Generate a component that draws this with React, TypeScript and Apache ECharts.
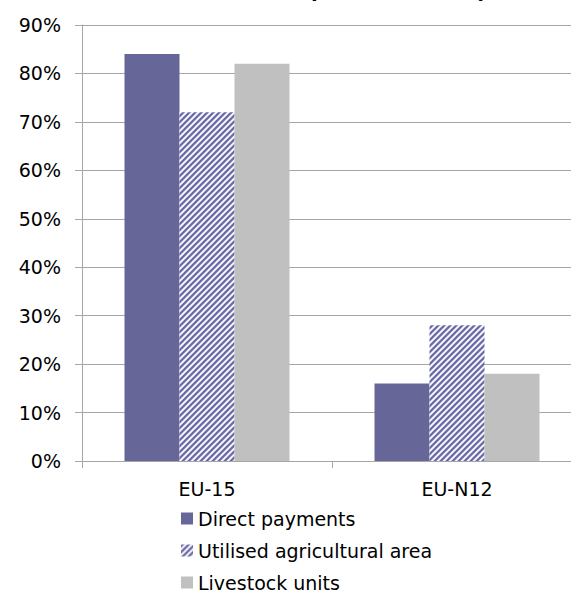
import React, { useEffect, useRef } from "react";
import * as echarts from "echarts";

const categories = ["EU-15", "EU-N12"];
const directPayments = [84, 16];
const utilisedArea = [72, 28];
const livestockUnits = [82, 18];
const yTicks = { min: 0, max: 90, interval: 10 };
const titleText = "(EU-27=100%)";

const FONT = "DejaVu Sans";

function makeHatch(): string {
  const P = 6;
  const c = document.createElement("canvas");
  c.width = P;
  c.height = P;
  const ctx = c.getContext("2d");
  if (!ctx) return "";
  const shades = ["#6a6aa4", "#6a6aa4", "#8a8abb", "#e6e6f1", "#ffffff", "#c4c4de"];
  for (let x = 0; x < P; x++) {
    for (let y = 0; y < P; y++) {
      ctx.fillStyle = shades[(x + y) % P];
      ctx.fillRect(x, y, 1, 1);
    }
  }
  return c.toDataURL();
}

export default function App() {
  const ref = useRef<HTMLDivElement>(null);
  useEffect(() => {
    if (!ref.current) return;
    const chart = echarts.init(ref.current, null, { renderer: "svg" });
    const gridColor = "#a6a6a6";
    const hatch = makeHatch();
    chart.setOption({
      animation: false,
      backgroundColor: "#ffffff",
      textStyle: { fontFamily: FONT },
      graphic: [
        {
          type: "text",
          left: 308,
          top: -21,
          style: {
            text: titleText,
            font: "bold 22px DejaVu Sans",
            fill: "#000",
          },
        },
      ],
      grid: { left: 82, right: 4, top: 25, bottom: 159, containLabel: false },
      legend: {
        orient: "vertical",
        left: 176,
        top: 504,
        itemWidth: 12,
        itemHeight: 12,
        itemGap: 13,
        icon: "rect",
        textStyle: { fontSize: 19, color: "#000", fontFamily: FONT },
        data: ["Direct payments", "Utilised agricultural area", "Livestock units"],
      },
      xAxis: {
        type: "category",
        data: categories,
        axisLine: { show: true, lineStyle: { color: gridColor, width: 1 } },
        axisTick: { show: true, length: 7, lineStyle: { color: gridColor } },
        axisLabel: { fontSize: 19, color: "#000", margin: 18, fontFamily: FONT },
      },
      yAxis: {
        type: "value",
        min: yTicks.min,
        max: yTicks.max,
        interval: yTicks.interval,
        axisLine: { show: true, lineStyle: { color: gridColor, width: 1 } },
        axisTick: { show: true, length: 7, lineStyle: { color: gridColor } },
        splitLine: { show: true, lineStyle: { color: gridColor, width: 1 } },
        axisLabel: {
          fontSize: 19,
          color: "#000",
          margin: 21,
          fontFamily: FONT,
          formatter: "{value}%",
        },
      },
      series: [
        {
          name: "Direct payments",
          type: "bar",
          data: directPayments,
          barGap: "0%",
          barCategoryGap: "34%",
          itemStyle: { color: "#666699" },
        },
        {
          name: "Utilised agricultural area",
          type: "bar",
          data: utilisedArea,
          itemStyle: {
            color: hatch ? { image: hatch, repeat: "repeat" } : "#9999c2",
          },
        },
        {
          name: "Livestock units",
          type: "bar",
          data: livestockUnits,
          itemStyle: { color: "#c0c0c0" },
        },
      ],
    });
    return () => chart.dispose();
  }, []);
  return (
    <div
      style={{
        position: "fixed",
        left: 0,
        top: 0,
        width: 571,
        height: 594,
        overflow: "hidden",
      }}
    >
      <div ref={ref} style={{ width: 586, height: 620 }} />
    </div>
  );
}
